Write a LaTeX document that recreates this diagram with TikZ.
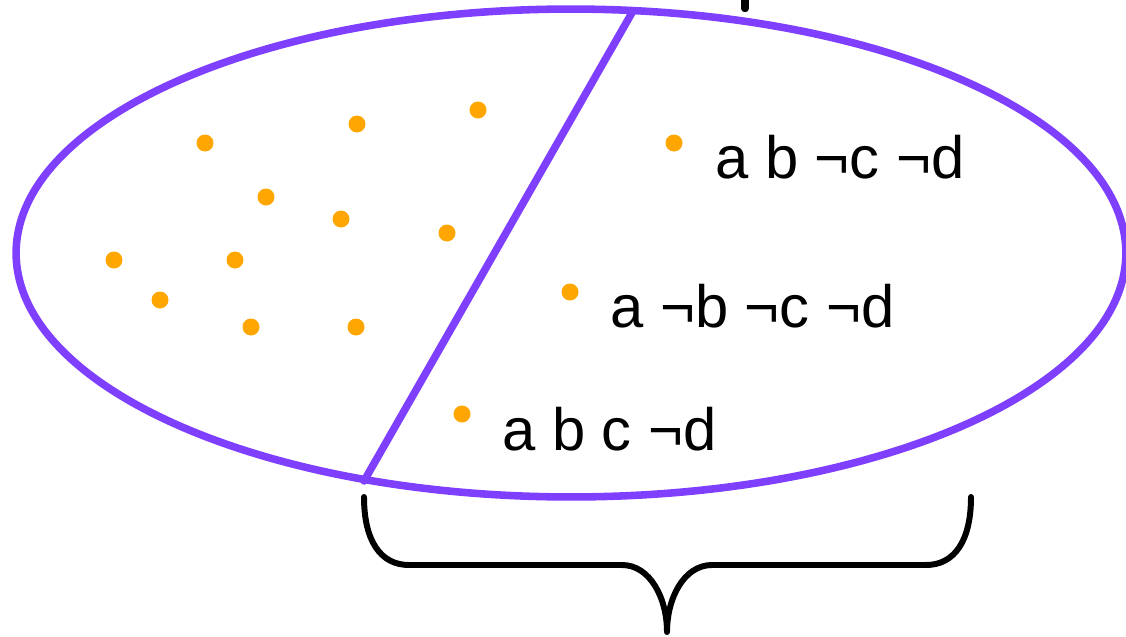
\documentclass[tikz,border=0pt]{standalone}
\usepackage{fontspec}
\setmainfont{Liberation Sans}

\begin{document}
\begin{tikzpicture}[x=0.02cm,y=-0.02cm,line cap=round,line join=round,
  set/.style={draw={rgb,255:red,127;green,63;blue,255},line width=4.3pt},
  dot/.style={fill={rgb,255:red,255;green,166;blue,0}},
  lbl/.style={anchor=base west,inner sep=0pt,font=\fontsize{34}{40}\selectfont}]
\useasboundingbox (0,0) rectangle (1126,636);
\coordinate (ctr) at (571,253);
\coordinate (cutT) at (633,11);
\coordinate (cutB) at (364,481);
\coordinate (bl) at (364,497);
\coordinate (br) at (971,497);
\coordinate (tip) at (667,632);
\coordinate (mk) at (745,-6);
\coordinate (mkb) at (745,8.5);
% the set and its cut
\draw[set] (ctr) ellipse [x radius=11.1cm,y radius=4.88cm];
\draw[set] (cutT) -- (cutB);
% dots on the left side
\foreach \px/\py in {205/143,357/124,478/110,266/197,341/219,447/233,114/260,235/260,160/300,251/327,356/327}
  \fill[dot] (\px,\py) circle (0.17cm);
% dots with labels
\coordinate (d1) at (674,143);
\coordinate (d2) at (570,292);
\coordinate (d3) at (462,414);
\fill[dot] (d1) circle (0.17cm);
\fill[dot] (d2) circle (0.17cm);
\fill[dot] (d3) circle (0.17cm);
\node[lbl] (t1) at (715,178) {a b ¬c ¬d};
\node[lbl] (t2) at (610,327) {a ¬b ¬c ¬d};
\node[lbl] (t3) at (502,450) {a b c ¬d};
% brace
\draw[line width=3.4pt] (bl) .. controls (364,540) and (380,565) .. (409,565) -- (622,565)
  .. controls (650,565) and (667,598) .. (tip)
  .. controls (667,598) and (684,565) .. (712,565) -- (926,565)
  .. controls (955,565) and (971,540) .. (br);
\draw[line width=4.2pt] (mk) -- (mkb);
\end{tikzpicture}
\end{document}
